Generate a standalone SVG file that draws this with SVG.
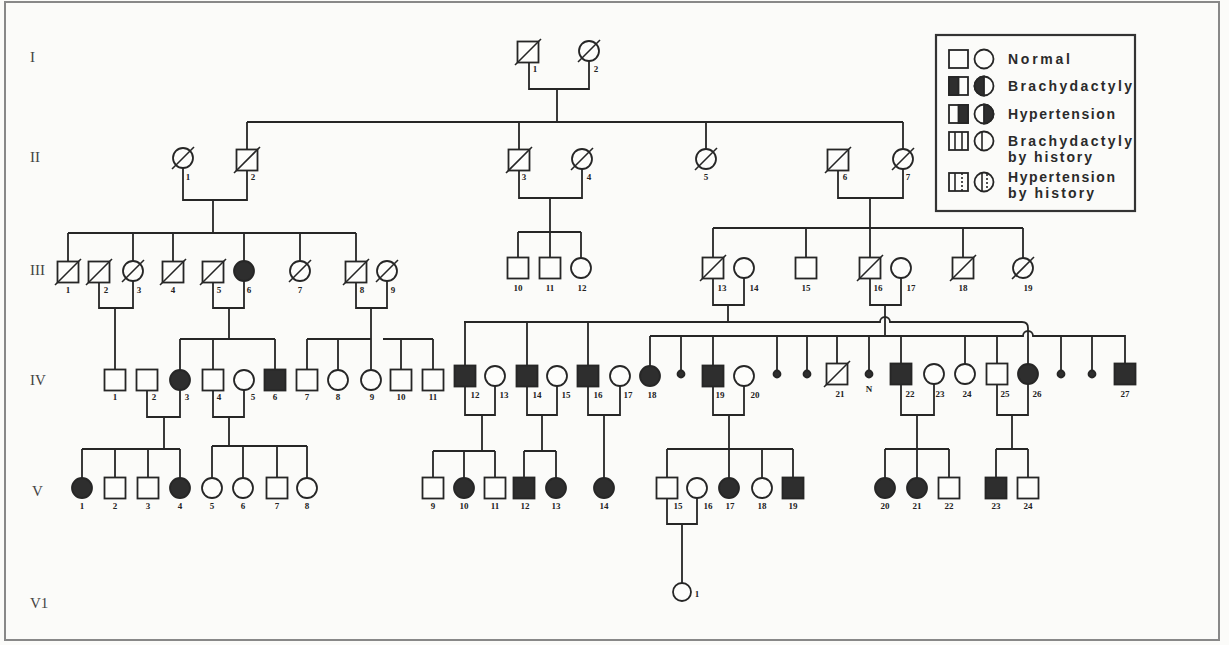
<svg xmlns="http://www.w3.org/2000/svg" width="1229" height="645" viewBox="0 0 1229 645">
<style>
.n{fill:#fdfdfb;stroke:#262626;stroke-width:1.8}
.f{fill:#2e2e2e;stroke:#262626;stroke-width:1.8}
.s{stroke:#262626;stroke-width:1.6}
.c{fill:none;stroke:#262626;stroke-width:1.8}
.lb{font-family:"Liberation Serif",serif;font-weight:bold;font-size:9px;fill:#222;text-anchor:middle}
.gen{font-family:"Liberation Serif",serif;font-size:15px;fill:#444}
.lg{font-family:"Liberation Sans",Arial,sans-serif;font-weight:bold;font-size:14px;fill:#2a2a2a}
</style>
<defs>
<rect id="sq" x="-10.5" y="-10.5" width="21" height="21" class="n"/>
<rect id="sqf" x="-10.5" y="-10.5" width="21" height="21" class="f"/>
<circle id="ci" r="10" class="n"/>
<circle id="cif" r="10" class="f"/>
<circle id="dot" r="3.5" class="f"/>
<line id="sl" x1="-13" y1="13" x2="13" y2="-13" class="s"/>
<line id="slc" x1="-11" y1="11" x2="11" y2="-11" class="s"/>
</defs>
<rect x="0" y="0" width="1229" height="645" fill="#fbfbf9"/>
<rect x="5" y="2" width="1214" height="638" fill="none" stroke="#888" stroke-width="2"/>

<g id="generations">
<text class="gen" x="30" y="62">I</text>
<text class="gen" x="30" y="162">II</text>
<text class="gen" x="30" y="275">III</text>
<text class="gen" x="30" y="385">IV</text>
<text class="gen" x="32" y="496">V</text>
<text class="gen" x="30" y="608">V1</text>
</g>

<g id="legend">
<rect x="936" y="35" width="199" height="176" fill="none" stroke="#333" stroke-width="2.2"/>
<rect x="949" y="50" width="19" height="18" class="n"/>
<circle cx="984" cy="59" r="9.5" class="n"/>
<text class="lg" x="1008" y="64" textLength="62" lengthAdjust="spacing">Normal</text>
<rect x="949" y="77" width="19" height="18" class="n"/>
<rect x="949" y="77" width="9.5" height="18" class="f"/>
<circle cx="984" cy="86" r="9.5" class="n"/>
<path d="M984,76.5 A9.5,9.5 0 0 0 984,95.5 Z" class="f"/>
<text class="lg" x="1008" y="91" textLength="124" lengthAdjust="spacing">Brachydactyly</text>
<rect x="949" y="105" width="19" height="18" class="n"/>
<rect x="958.5" y="105" width="9.5" height="18" class="f"/>
<circle cx="984" cy="114" r="9.5" class="n"/>
<path d="M984,104.5 A9.5,9.5 0 0 1 984,123.5 Z" class="f"/>
<text class="lg" x="1008" y="119" textLength="107" lengthAdjust="spacing">Hypertension</text>
<rect x="949" y="132" width="19" height="18" class="n"/>
<line x1="955" y1="132" x2="955" y2="150" class="s"/>
<line x1="962" y1="132" x2="962" y2="150" class="s"/>
<circle cx="984" cy="141" r="9.5" class="n"/>
<line x1="982" y1="131.5" x2="982" y2="150.5" class="s"/>
<text class="lg" x="1008" y="146" textLength="124" lengthAdjust="spacing">Brachydactyly</text>
<text class="lg" x="1008" y="162" textLength="84" lengthAdjust="spacing">by history</text>
<rect x="949" y="173" width="19" height="18" class="n"/>
<line x1="955" y1="173" x2="955" y2="191" class="s"/>
<line x1="962" y1="173" x2="962" y2="191" class="s" stroke-dasharray="2,2"/>
<circle cx="984" cy="182" r="9.5" class="n"/>
<line x1="982" y1="172.5" x2="982" y2="191.5" class="s"/>
<line x1="987" y1="174" x2="987" y2="190" class="s" stroke-dasharray="2,2"/>
<text class="lg" x="1008" y="182" textLength="107" lengthAdjust="spacing">Hypertension</text>
<text class="lg" x="1008" y="198" textLength="86" lengthAdjust="spacing">by history</text>
</g>

<g id="connectors" class="c">
<path d="M529,62 V89 H589 V61 M557,89 V122"/>
<path d="M247,122 H903 M247,122 V150 M519,122 V150 M706,122 V149 M903,122 V149"/>
<path d="M183,168 V200 H247 V170 M213,200 V233"/>
<path d="M519,170 V198 H582 V169 M550,198 V258"/>
<path d="M838,170 V198 H903 V169 M870,198 V258"/>
<path d="M68,233 H356 M68,233 V262 M133,233 V261 M173,233 V262 M244,233 V261 M300,233 V261 M356,233 V262"/>
<path d="M99,282 V308 H133 V281 M115,308 V370"/>
<path d="M213,282 V308 H244 V281 M229,308 V339"/>
<path d="M356,282 V308 H387 V281 M371,308 V370"/>
<path d="M518,232 H581 M518,232 V258 M581,232 V258"/>
<path d="M713,228 H1023 M713,228 V258 M806,228 V258 M963,228 V258 M1023,228 V258"/>
<path d="M713,278 V305 H744 V278 M728,305 V322"/>
<path d="M870,278 V305 H901 V278 M885,305 V336"/>
<path d="M464,322 H880 A5,5 0 0 1 890,322 H1022 Q1028,322 1028,328 V364"/>
<path d="M650,336 H1023 A5,5 0 0 1 1033,336 H1125 V364"/>
<path d="M465,322 V366 M527,322 V366 M588,322 V366"/>
<path d="M650,336 V366 M681,336 V371 M713,336 V366 M777,336 V371 M807,336 V371 M837,336 V364 M869,336 V371 M901,336 V364 M965,336 V364 M997,336 V364 M1061,336 V371 M1092,336 V371"/>
<path d="M180,339 H275 M180,339 V370 M213,339 V370 M275,339 V370"/>
<path d="M307,339 H371 M307,339 V370 M338,339 V370"/>
<path d="M383,339 H433 M401,339 V370 M433,339 V370"/>
<path d="M147,390 V417 H180 V390 M164,417 V449"/>
<path d="M213,390 V417 H244 V390 M229,417 V446"/>
<path d="M465,386 V415 H495 V386 M482,415 V451"/>
<path d="M527,386 V415 H557 V386 M542,415 V451"/>
<path d="M588,386 V415 H620 V386 M604,415 V478"/>
<path d="M713,386 V415 H744 V386 M729,415 V478"/>
<path d="M901,384 V415 H934 V384 M917,415 V478"/>
<path d="M997,384 V415 H1028 V384 M1012,415 V449"/>
<path d="M82,449 H180 M82,449 V478 M115,449 V478 M148,449 V478 M180,449 V478"/>
<path d="M212,446 H307 M212,446 V478 M243,446 V478 M277,446 V478 M307,446 V478"/>
<path d="M433,451 H495 M433,451 V478 M464,451 V478 M495,451 V478"/>
<path d="M524,451 H556 M524,451 V478 M556,451 V478"/>
<path d="M667,449 H793 M667,449 V478 M762,449 V478 M793,449 V478"/>
<path d="M885,449 H949 M885,449 V478 M949,449 V478"/>
<path d="M996,449 H1028 M996,449 V478 M1028,449 V478"/>
<path d="M667,498 V524 H697 V498 M682,524 V583"/>
</g>

<g id="I-1"><use href="#sq" x="528" y="52"/><use href="#sl" x="528" y="52"/><text class="lb" x="535" y="72">1</text></g>
<g id="I-2"><use href="#ci" x="589" y="51"/><use href="#slc" x="589" y="51"/><text class="lb" x="596" y="72">2</text></g>

<g id="II-1"><use href="#ci" x="183" y="158"/><use href="#slc" x="183" y="158"/><text class="lb" x="188" y="180">1</text></g>
<g id="II-2"><use href="#sq" x="247" y="160"/><use href="#sl" x="247" y="160"/><text class="lb" x="253" y="180">2</text></g>
<g id="II-3"><use href="#sq" x="519" y="160"/><use href="#sl" x="519" y="160"/><text class="lb" x="524" y="180">3</text></g>
<g id="II-4"><use href="#ci" x="582" y="159"/><use href="#slc" x="582" y="159"/><text class="lb" x="589" y="180">4</text></g>
<g id="II-5"><use href="#ci" x="706" y="159"/><use href="#slc" x="706" y="159"/><text class="lb" x="706" y="180">5</text></g>
<g id="II-6"><use href="#sq" x="838" y="160"/><use href="#sl" x="838" y="160"/><text class="lb" x="845" y="180">6</text></g>
<g id="II-7"><use href="#ci" x="903" y="159"/><use href="#slc" x="903" y="159"/><text class="lb" x="908" y="180">7</text></g>

<g id="III-1"><use href="#sq" x="68" y="272"/><use href="#sl" x="68" y="272"/><text class="lb" x="68" y="293">1</text></g>
<g id="III-2"><use href="#sq" x="99" y="272"/><use href="#sl" x="99" y="272"/><text class="lb" x="106" y="293">2</text></g>
<g id="III-3"><use href="#ci" x="133" y="271"/><use href="#slc" x="133" y="271"/><text class="lb" x="139" y="293">3</text></g>
<g id="III-4"><use href="#sq" x="173" y="272"/><use href="#sl" x="173" y="272"/><text class="lb" x="173" y="293">4</text></g>
<g id="III-5"><use href="#sq" x="213" y="272"/><use href="#sl" x="213" y="272"/><text class="lb" x="219" y="293">5</text></g>
<g id="III-6"><use href="#cif" x="244" y="271"/><text class="lb" x="249" y="293">6</text></g>
<g id="III-7"><use href="#ci" x="300" y="271"/><use href="#slc" x="300" y="271"/><text class="lb" x="300" y="293">7</text></g>
<g id="III-8"><use href="#sq" x="356" y="272"/><use href="#sl" x="356" y="272"/><text class="lb" x="362" y="293">8</text></g>
<g id="III-9"><use href="#ci" x="387" y="271"/><use href="#slc" x="387" y="271"/><text class="lb" x="393" y="293">9</text></g>
<g id="III-10"><use href="#sq" x="518" y="268"/><text class="lb" x="518" y="291">10</text></g>
<g id="III-11"><use href="#sq" x="550" y="268"/><text class="lb" x="550" y="291">11</text></g>
<g id="III-12"><use href="#ci" x="581" y="268"/><text class="lb" x="582" y="291">12</text></g>
<g id="III-13"><use href="#sq" x="713" y="268"/><use href="#sl" x="713" y="268"/><text class="lb" x="722" y="291">13</text></g>
<g id="III-14"><use href="#ci" x="744" y="268"/><text class="lb" x="754" y="291">14</text></g>
<g id="III-15"><use href="#sq" x="806" y="268"/><text class="lb" x="806" y="291">15</text></g>
<g id="III-16"><use href="#sq" x="870" y="268"/><use href="#sl" x="870" y="268"/><text class="lb" x="878" y="291">16</text></g>
<g id="III-17"><use href="#ci" x="901" y="268"/><text class="lb" x="911" y="291">17</text></g>
<g id="III-18"><use href="#sq" x="963" y="268"/><use href="#sl" x="963" y="268"/><text class="lb" x="963" y="291">18</text></g>
<g id="III-19"><use href="#ci" x="1023" y="268"/><use href="#slc" x="1023" y="268"/><text class="lb" x="1028" y="291">19</text></g>

<g id="IV-1"><use href="#sq" x="115" y="380"/><text class="lb" x="115" y="400">1</text></g>
<g id="IV-2"><use href="#sq" x="147" y="380"/><text class="lb" x="154" y="400">2</text></g>
<g id="IV-3"><use href="#cif" x="180" y="380"/><text class="lb" x="187" y="400">3</text></g>
<g id="IV-4"><use href="#sq" x="213" y="380"/><text class="lb" x="219" y="400">4</text></g>
<g id="IV-5"><use href="#ci" x="244" y="380"/><text class="lb" x="253" y="400">5</text></g>
<g id="IV-6"><use href="#sqf" x="275" y="380"/><text class="lb" x="275" y="400">6</text></g>
<g id="IV-7"><use href="#sq" x="307" y="380"/><text class="lb" x="307" y="400">7</text></g>
<g id="IV-8"><use href="#ci" x="338" y="380"/><text class="lb" x="338" y="400">8</text></g>
<g id="IV-9"><use href="#ci" x="371" y="380"/><text class="lb" x="372" y="400">9</text></g>
<g id="IV-10"><use href="#sq" x="401" y="380"/><text class="lb" x="401" y="400">10</text></g>
<g id="IV-11"><use href="#sq" x="433" y="380"/><text class="lb" x="433" y="400">11</text></g>
<g id="IV-12"><use href="#sqf" x="465" y="376"/><text class="lb" x="475" y="398">12</text></g>
<g id="IV-13"><use href="#ci" x="495" y="376"/><text class="lb" x="504" y="398">13</text></g>
<g id="IV-14"><use href="#sqf" x="527" y="376"/><text class="lb" x="537" y="398">14</text></g>
<g id="IV-15"><use href="#ci" x="557" y="376"/><text class="lb" x="566" y="398">15</text></g>
<g id="IV-16"><use href="#sqf" x="588" y="376"/><text class="lb" x="598" y="398">16</text></g>
<g id="IV-17"><use href="#ci" x="620" y="376"/><text class="lb" x="628" y="398">17</text></g>
<g id="IV-18"><use href="#cif" x="650" y="376"/><text class="lb" x="652" y="398">18</text></g>
<g id="IV-d1"><use href="#dot" x="681" y="374"/></g>
<g id="IV-19"><use href="#sqf" x="713" y="376"/><text class="lb" x="720" y="398">19</text></g>
<g id="IV-20"><use href="#ci" x="744" y="376"/><text class="lb" x="755" y="398">20</text></g>
<g id="IV-d2"><use href="#dot" x="777" y="374"/></g>
<g id="IV-d3"><use href="#dot" x="807" y="374"/></g>
<g id="IV-21"><use href="#sq" x="837" y="374"/><use href="#sl" x="837" y="374"/><text class="lb" x="840" y="397">21</text></g>
<g id="IV-N"><use href="#dot" x="869" y="374"/><text class="lb" x="869" y="392">N</text></g>
<g id="IV-22"><use href="#sqf" x="901" y="374"/><text class="lb" x="910" y="397">22</text></g>
<g id="IV-23"><use href="#ci" x="934" y="374"/><text class="lb" x="940" y="397">23</text></g>
<g id="IV-24"><use href="#ci" x="965" y="374"/><text class="lb" x="967" y="397">24</text></g>
<g id="IV-25"><use href="#sq" x="997" y="374"/><text class="lb" x="1005" y="397">25</text></g>
<g id="IV-26"><use href="#cif" x="1028" y="374"/><text class="lb" x="1037" y="397">26</text></g>
<g id="IV-d4"><use href="#dot" x="1061" y="374"/></g>
<g id="IV-d5"><use href="#dot" x="1092" y="374"/></g>
<g id="IV-27"><use href="#sqf" x="1125" y="374"/><text class="lb" x="1125" y="397">27</text></g>

<g id="V-1"><use href="#cif" x="82" y="488"/><text class="lb" x="82" y="509">1</text></g>
<g id="V-2"><use href="#sq" x="115" y="488"/><text class="lb" x="115" y="509">2</text></g>
<g id="V-3"><use href="#sq" x="148" y="488"/><text class="lb" x="148" y="509">3</text></g>
<g id="V-4"><use href="#cif" x="180" y="488"/><text class="lb" x="180" y="509">4</text></g>
<g id="V-5"><use href="#ci" x="212" y="488"/><text class="lb" x="212" y="509">5</text></g>
<g id="V-6"><use href="#ci" x="243" y="488"/><text class="lb" x="243" y="509">6</text></g>
<g id="V-7"><use href="#sq" x="277" y="488"/><text class="lb" x="277" y="509">7</text></g>
<g id="V-8"><use href="#ci" x="307" y="488"/><text class="lb" x="307" y="509">8</text></g>
<g id="V-9"><use href="#sq" x="433" y="488"/><text class="lb" x="433" y="509">9</text></g>
<g id="V-10"><use href="#cif" x="464" y="488"/><text class="lb" x="464" y="509">10</text></g>
<g id="V-11"><use href="#sq" x="495" y="488"/><text class="lb" x="495" y="509">11</text></g>
<g id="V-12"><use href="#sqf" x="524" y="488"/><text class="lb" x="525" y="509">12</text></g>
<g id="V-13"><use href="#cif" x="556" y="488"/><text class="lb" x="556" y="509">13</text></g>
<g id="V-14"><use href="#cif" x="604" y="488"/><text class="lb" x="604" y="509">14</text></g>
<g id="V-15"><use href="#sq" x="667" y="488"/><text class="lb" x="678" y="509">15</text></g>
<g id="V-16"><use href="#ci" x="697" y="488"/><text class="lb" x="708" y="509">16</text></g>
<g id="V-17"><use href="#cif" x="729" y="488"/><text class="lb" x="730" y="509">17</text></g>
<g id="V-18"><use href="#ci" x="762" y="488"/><text class="lb" x="762" y="509">18</text></g>
<g id="V-19"><use href="#sqf" x="793" y="488"/><text class="lb" x="793" y="509">19</text></g>
<g id="V-20"><use href="#cif" x="885" y="488"/><text class="lb" x="885" y="509">20</text></g>
<g id="V-21"><use href="#cif" x="917" y="488"/><text class="lb" x="917" y="509">21</text></g>
<g id="V-22"><use href="#sq" x="949" y="488"/><text class="lb" x="949" y="509">22</text></g>
<g id="V-23"><use href="#sqf" x="996" y="488"/><text class="lb" x="996" y="509">23</text></g>
<g id="V-24"><use href="#sq" x="1028" y="488"/><text class="lb" x="1028" y="509">24</text></g>

<g id="VI-1"><circle cx="682" cy="592" r="9" class="n"/><text class="lb" x="697" y="597">1</text></g>
</svg>
